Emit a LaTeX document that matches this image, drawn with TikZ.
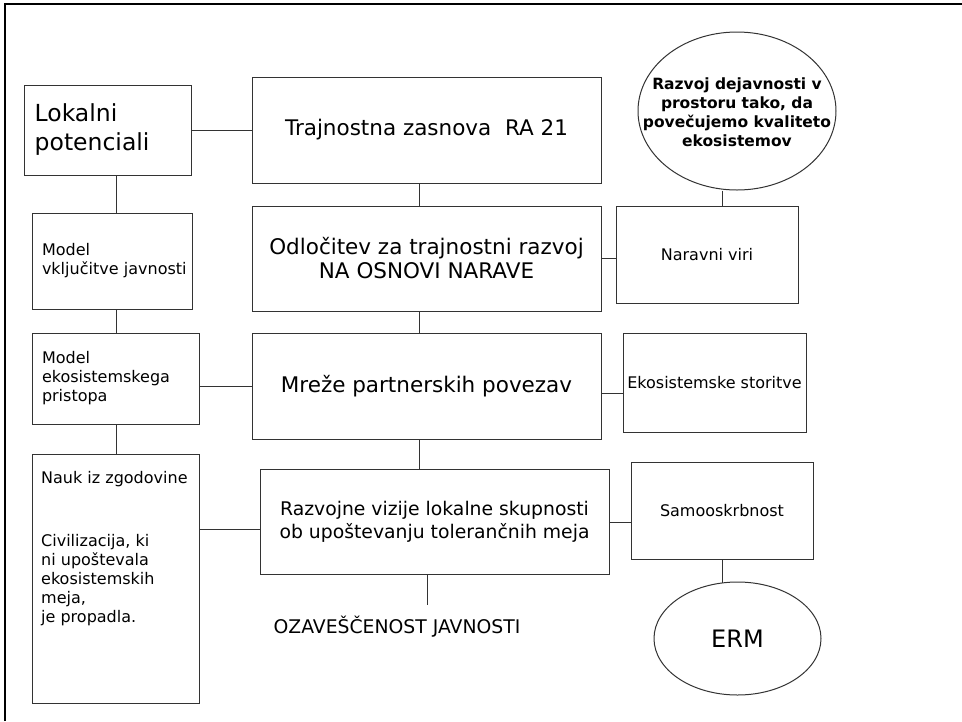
\documentclass[tikz,border=0pt]{standalone}
\usepackage{fontspec}
\setmainfont{DejaVu Sans}
\usetikzlibrary{shapes.geometric}
\tikzset{
  box/.style={draw=black!80, line width=1pt, rectangle, inner sep=0pt},
  oval/.style={draw=black!80, line width=1pt, ellipse, inner sep=0pt},
  conn/.style={draw=black!80, line width=1pt},
  bigtxt/.style={font=\fontsize{21.5}{24}\selectfont},
  medtxt/.style={font=\fontsize{18.8}{23}\selectfont},
  smalltxt/.style={font=\fontsize{16}{19}\selectfont},
}
\begin{document}
\begin{tikzpicture}[x=1pt,y=-1pt]
\useasboundingbox (0,0) rectangle (962,721);
\fill[white] (0,0) rectangle (962,721);
% outer frame (only top and left visible)
\draw[line width=2pt, black] (5,721) -- (5,3.7) -- (962,3.7);

% central column
\node[box, bigtxt, minimum width=349pt, minimum height=106pt] (tra) at (426.5,130) {Trajnostna zasnova\ \ RA 21};
\node[box, bigtxt, align=center, minimum width=349pt, minimum height=105pt] (odl) at (426.5,258.5) {Odločitev za trajnostni razvoj\\NA OSNOVI NARAVE};
\node[box, bigtxt, minimum width=349pt, minimum height=106pt] (mre) at (426.5,386) {Mreže partnerskih povezav};
\node[box, medtxt, align=center, minimum width=349pt, minimum height=105pt] (raz) at (434.5,521.5) {Razvojne vizije lokalne skupnosti\\ob upoštevanju tolerančnih meja};
\node[medtxt, inner sep=0pt] (oza) at (397,627) {OZAVEŠČENOST JAVNOSTI};
\coordinate (ozatop) at (427,605);

% left column
\node[box, align=left, text width=147pt, minimum width=167pt, minimum height=90pt, font=\fontsize{23.5}{29}\selectfont] (lok) at (108.2,130) {Lokalni\\potenciali};
\node[box, smalltxt, align=left, text width=140pt, minimum width=160pt, minimum height=96pt] (mv) at (112,261) {Model\\vključitve~javnosti};
\node[box, smalltxt, align=left, text width=147pt, minimum width=167pt, minimum height=91pt] (me) at (115.5,378.5) {Model\\ekosistemskega\\pristopa};
\node[box, minimum width=167pt, minimum height=249pt] (nauk) at (115.5,578.5) {};
\node[smalltxt, align=left, anchor=west, inner sep=0pt] (naukt) at ([xshift=9.5pt, yshift=30pt]nauk.west) {Nauk iz zgodovine\\[44pt]Civilizacija, ki\\ni upoštevala\\ekosistemskih\\meja,\\je propadla.};

% right column
\node[oval, minimum width=198pt, minimum height=158pt] (ell) at (737,111) {};
\node[font=\bfseries\fontsize{15.5}{19}\selectfont, align=center, inner sep=0pt] (ellt) at (737,112.5) {Razvoj dejavnosti v\\prostoru tako, da\\povečujemo kvaliteto\\ekosistemov};
\node[box, smalltxt, minimum width=182pt, minimum height=97pt] (nar) at (707,254.5) {Naravni viri};
\node[box, smalltxt, minimum width=183pt, minimum height=99pt] (eko) at (714.5,382.5) {Ekosistemske storitve};
\node[box, smalltxt, minimum width=182pt, minimum height=97pt] (sam) at (722,510.5) {Samooskrbnost};
\node[oval, minimum width=167pt, minimum height=113pt, font=\fontsize{24}{28}\selectfont] (erm) at (737.5,638.5) {ERM};

% connectors
\draw[conn] (lok.east) -- (tra.west);
\draw[conn] ([xshift=-7.5pt]tra.south) -- ([xshift=-7.5pt]odl.north);
\draw[conn] ([xshift=-7.5pt]odl.south) -- ([xshift=-7.5pt]mre.north);
\draw[conn] ([xshift=-7.5pt]mre.south) -- ([xshift=-15.5pt]raz.north);
\draw[conn] ([xshift=-7.5pt]raz.south) -- (ozatop);
\draw[conn] ([xshift=7.8pt]lok.south) -- ([xshift=4pt]mv.north);
\draw[conn] ([xshift=4pt]mv.south) -- ([xshift=0.5pt]me.north);
\draw[conn] ([xshift=0.5pt]me.south) -- ([xshift=0.5pt]nauk.north);
\draw[conn] ([yshift=-7.5pt]me.east) -- (mre.west);
\draw[conn] ([yshift=49.5pt]nauk.east) -- ([yshift=-7.5pt]raz.west);
\draw[conn] ([xshift=-15pt]ell.south) -- ([xshift=15pt]nar.north);
\draw[conn] ([yshift=0.5pt]odl.east) -- ([yshift=-3.5pt]nar.west);
\draw[conn] ([yshift=-7pt]mre.east) -- ([yshift=-10.5pt]eko.west);
\draw[conn] ([yshift=-0.5pt]raz.east) -- ([yshift=-11.5pt]sam.west);
\draw[conn] (sam.south) -- ([xshift=-15.5pt, yshift=-1pt]erm.north);
\end{tikzpicture}
\end{document}
